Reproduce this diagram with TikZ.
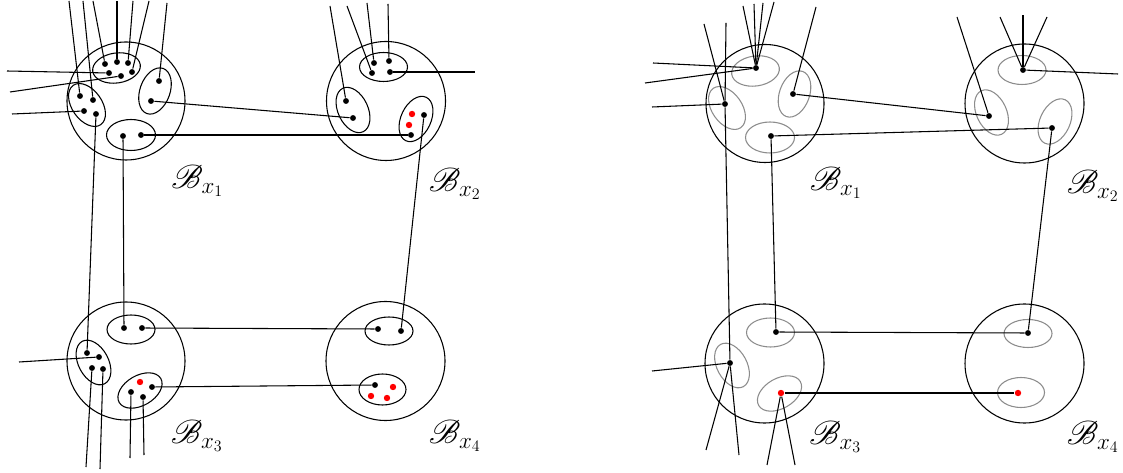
\documentclass[tikz,border=0pt]{standalone}
\usepackage{mathrsfs}
\begin{document}
\begin{tikzpicture}[x=0.75pt,y=-0.75pt,line width=0.8pt,
  dot/.style={circle,fill=black,inner sep=0pt,minimum size=4.4pt},
  rdot/.style={circle,fill=red,inner sep=0pt,minimum size=4.8pt},
  ell/.style={draw=black},
  gell/.style={draw=black!45},
  ball/.style={draw=black},
  lab/.style={font=\fontsize{25}{29}\selectfont,inner sep=0pt}]
\useasboundingbox (0,0) rectangle (1123,473);
% ================= LEFT PANEL =================
% balls
\draw[ball] (126,101) circle [radius=59];
\draw[ball] (386,101) circle [radius=59.5];
\draw[ball] (126,361) circle [radius=59];
\draw[ball] (385.5,361) circle [radius=59.5];
% ellipses TL
\draw[ell,rotate around={8:(116.5,68)}] (116.5,68) ellipse [x radius=24, y radius=15];
\draw[ell,rotate around={-55:(87,105)}] (87,105) ellipse [x radius=24, y radius=15];
\draw[ell,rotate around={70:(155,91)}] (155,91) ellipse [x radius=24, y radius=15];
\draw[ell] (131,135) ellipse [x radius=24.5, y radius=15.5];
% ellipses TR
\draw[ell] (383.5,67) ellipse [x radius=24, y radius=14.5];
\draw[ell,rotate around={-65:(353,110)}] (353,110) ellipse [x radius=24, y radius=15];
\draw[ell,rotate around={65:(416,119)}] (416,119) ellipse [x radius=24, y radius=15];
% ellipses BL
\draw[ell] (131,329.5) ellipse [x radius=24, y radius=14.5];
\draw[ell,rotate around={-62:(93.5,362.5)}] (93.5,362.5) ellipse [x radius=24, y radius=15];
\draw[ell,rotate around={30:(140,390.5)}] (140,390.5) ellipse [x radius=24, y radius=15];
% ellipses BR
\draw[ell] (389,331) ellipse [x radius=24, y radius=14];
\draw[ell] (382.5,389.5) ellipse [x radius=23.5, y radius=15.5];
% dots TL
\node[dot] (a1) at (105,64) {};
\node[dot] (a2) at (117,62) {};
\node[dot] (a3) at (128,63) {};
\node[dot] (a4) at (109,73) {};
\node[dot] (a5) at (121,76) {};
\node[dot] (a6) at (132,72) {};
\node[dot] (b1) at (80,96) {};
\node[dot] (b2) at (93,100) {};
\node[dot] (b3) at (84,111) {};
\node[dot] (b4) at (96,114) {};
\node[dot] (c1) at (159,81) {};
\node[dot] (c2) at (151,101) {};
\node[dot] (d1) at (123,136) {};
\node[dot] (d2) at (141,135) {};
% dots TR
\node[dot] (e1) at (374,63) {};
\node[dot] (e2) at (389,61) {};
\node[dot] (e3) at (372,73) {};
\node[dot] (e4) at (390,72) {};
\node[dot] (f1) at (346,101) {};
\node[dot] (f2) at (353,118) {};
\node[rdot] (g1) at (412,114) {};
\node[rdot] (g2) at (409,125) {};
\node[dot] (g3) at (411,135) {};
\node[dot] (g4) at (424,115) {};
% dots BL
\node[dot] (j1) at (124,328) {};
\node[dot] (j2) at (142,328) {};
\node[dot] (k1) at (87,353) {};
\node[dot] (k2) at (99,357) {};
\node[dot] (k3) at (92,368) {};
\node[dot] (k4) at (103,369) {};
\node[rdot] (m1) at (140,382) {};
\node[dot] (m2) at (152,387) {};
\node[dot] (m3) at (131,392) {};
\node[dot] (m4) at (143,397) {};
% dots BR
\node[dot] (n1) at (378,329) {};
\node[dot] (n2) at (401,331) {};
\node[dot] (p1) at (375,385) {};
\node[rdot] (p2) at (393,387) {};
\node[rdot] (p3) at (371,396) {};
\node[rdot] (p4) at (387,398) {};
% free ends
\coordinate (tb1) at (69,1);
\coordinate (tb2) at (83,1);
\coordinate (ta1) at (93,1);
\coordinate (ta2) at (117,1);
\coordinate (ta3) at (133,1);
\coordinate (ta6) at (149,1);
\coordinate (tc1) at (167,3);
\coordinate (la4) at (7,71);
\coordinate (la5) at (10,92);
\coordinate (lb3) at (12,114);
\coordinate (tf1) at (330,6);
\coordinate (te3) at (347,6);
\coordinate (te1) at (367,3);
\coordinate (te2) at (388,4);
\coordinate (re4) at (475,72);
\coordinate (lk2) at (19,362);
\coordinate (bk3) at (86,467);
\coordinate (bk4) at (100,469);
\coordinate (bm3) at (130,458);
\coordinate (bm4) at (144,455);
% connectors
\draw (b1) -- (tb1); \draw (b2) -- (tb2); \draw (a1) -- (ta1);
\draw (a2) -- (ta2); \draw (a3) -- (ta3); \draw (a6) -- (ta6);
\draw (c1) -- (tc1);
\draw (a4) -- (la4); \draw (a5) -- (la5); \draw (b3) -- (lb3);
\draw (c2) -- (f2); \draw (d2) -- (g3);
\draw (b4) -- (k1); \draw (d1) -- (j1);
\draw (f1) -- (tf1); \draw (e3) -- (te3); \draw (e1) -- (te1); \draw (e2) -- (te2);
\draw (e4) -- (re4); \draw (g4) -- (n2);
\draw (k2) -- (lk2); \draw (k3) -- (bk3); \draw (k4) -- (bk4);
\draw (m3) -- (bm3); \draw (m4) -- (bm4);
\draw (j2) -- (n1); \draw (m2) -- (p1);
% labels
\node[lab] (L1) at (197.5,181) {$\mathscr{B}_{x_1}$};
\node[lab] (L2) at (455,184) {$\mathscr{B}_{x_2}$};
\node[lab] (L3) at (197,436) {$\mathscr{B}_{x_3}$};
\node[lab] (L4) at (455,436) {$\mathscr{B}_{x_4}$};
% ================= RIGHT PANEL =================
\draw[ball] (765,103.5) circle [radius=59];
\draw[ball] (1024.5,103.5) circle [radius=59.5];
\draw[ball] (764.5,363.5) circle [radius=59.5];
\draw[ball] (1024.5,363.5) circle [radius=59.5];
\draw[gell,rotate around={8:(755.5,71)}] (755.5,71) ellipse [x radius=24, y radius=15];
\draw[gell,rotate around={-55:(727,108)}] (727,108) ellipse [x radius=24, y radius=15];
\draw[gell,rotate around={70:(794.5,94)}] (794.5,94) ellipse [x radius=24, y radius=15];
\draw[gell] (770,137.5) ellipse [x radius=24.5, y radius=15.5];
\draw[gell] (1022,70) ellipse [x radius=24, y radius=14.5];
\draw[gell,rotate around={-65:(991.5,112.5)}] (991.5,112.5) ellipse [x radius=24, y radius=15];
\draw[gell,rotate around={65:(1055,121.5)}] (1055,121.5) ellipse [x radius=24, y radius=15];
\draw[gell] (770.5,332.5) ellipse [x radius=24, y radius=14.5];
\draw[gell,rotate around={-62:(732,365.5)}] (732,365.5) ellipse [x radius=24, y radius=15];
\draw[gell,rotate around={30:(779.5,393.5)}] (779.5,393.5) ellipse [x radius=24, y radius=15];
\draw[gell] (1028,333.5) ellipse [x radius=24, y radius=14];
\draw[gell] (1021,392.5) ellipse [x radius=23.5, y radius=15];
% dots
\node[dot] (A) at (756,68) {};
\node[dot] (B) at (725,104) {};
\node[dot] (C) at (793,94) {};
\node[dot] (D) at (771,136) {};
\node[dot] (E) at (1023,70) {};
\node[dot] (F) at (989,116) {};
\node[dot] (G) at (1052,128) {};
\node[dot] (J) at (776,332) {};
\node[dot] (K) at (730,363) {};
\node[rdot] (M) at (781,393) {};
\node[dot] (N) at (1028,333) {};
\node[rdot] (P) at (1018,393) {};
% free ends
\coordinate (tA1) at (743,6);
\coordinate (tA2) at (754,4);
\coordinate (tA3) at (763,3);
\coordinate (tA4) at (774,2);
\coordinate (lA1) at (653,63);
\coordinate (lA2) at (645,83);
\coordinate (tB1) at (704,24);
\coordinate (tB2) at (726,23);
\coordinate (lB) at (652,107);
\coordinate (tC) at (816,7);
\coordinate (tE1) at (1000,17);
\coordinate (tE2) at (1023,15);
\coordinate (tE3) at (1047,17);
\coordinate (rE) at (1118,74);
\coordinate (tF) at (957,17);
\coordinate (lK) at (652,371);
\coordinate (bK1) at (706,450);
\coordinate (bK2) at (739,455);
\coordinate (bM1) at (767,465);
\coordinate (bM2) at (795,465);
% connectors
\draw (A) -- (tA1); \draw (A) -- (tA2); \draw (A) -- (tA3); \draw (A) -- (tA4);
\draw (A) -- (lA1); \draw (A) -- (lA2);
\draw (B) -- (tB1); \draw (B) -- (tB2); \draw (B) -- (lB); \draw (B) -- (K);
\draw (C) -- (tC); \draw (C) -- (F);
\draw (D) -- (G); \draw (D) -- (J);
\draw (E) -- (tE1); \draw (E) -- (tE2); \draw (E) -- (tE3); \draw (E) -- (rE);
\draw (F) -- (tF);
\draw (G) -- (N);
\draw (K) -- (lK); \draw (K) -- (bK1); \draw (K) -- (bK2);
\draw (M) -- (bM1); \draw (M) -- (bM2);
\draw (J) -- (N); \draw (M) -- (P);
% labels
\node[lab] (R1) at (836,183) {$\mathscr{B}_{x_1}$};
\node[lab] (R2) at (1093,186) {$\mathscr{B}_{x_2}$};
\node[lab] (R3) at (835.5,437) {$\mathscr{B}_{x_3}$};
\node[lab] (R4) at (1093,437) {$\mathscr{B}_{x_4}$};
\end{tikzpicture}
\end{document}
